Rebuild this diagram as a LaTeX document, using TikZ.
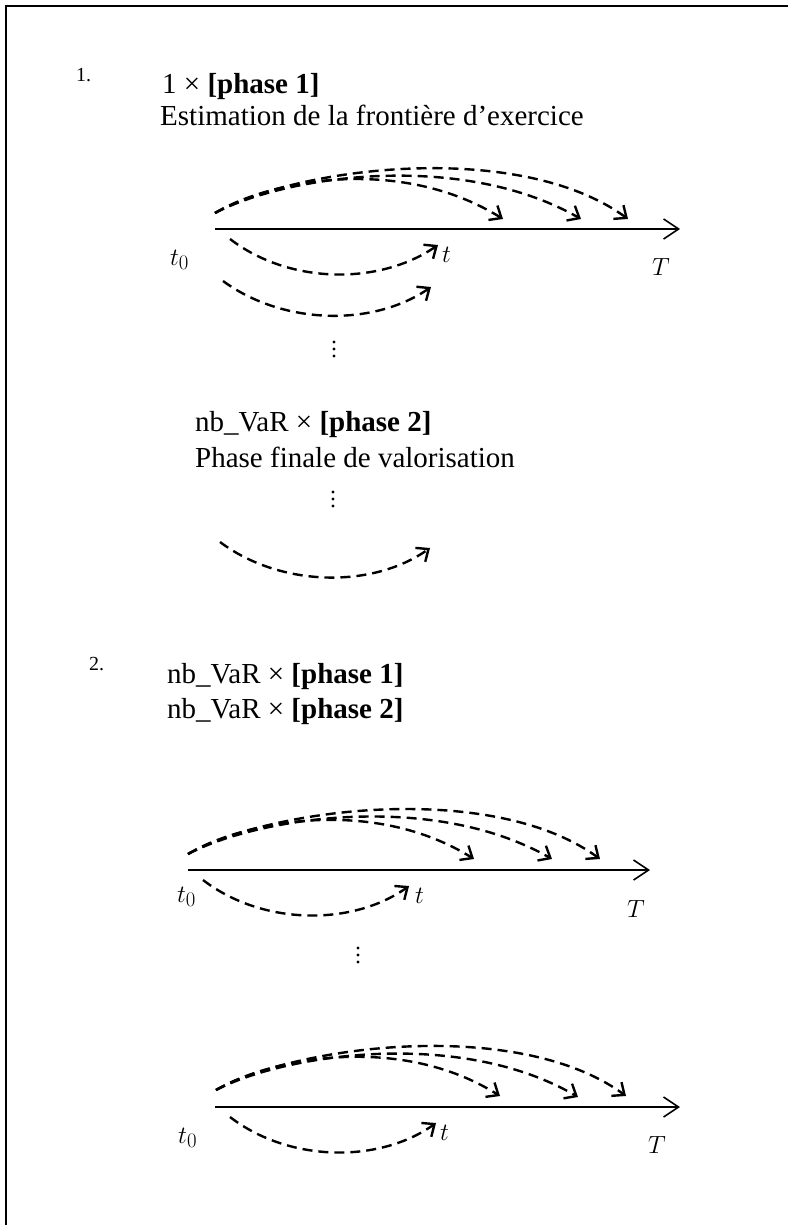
\documentclass[tikz,border=0pt]{standalone}
\usepackage{fontspec}
\setmainfont{Liberation Serif}
\usetikzlibrary{arrows.meta}
\tikzset{
  frameline/.style={line width=1.8pt, line cap=rect},
  axisline/.style={line width=1.6pt, -{Straight Barb[length=15pt,width=20pt,line width=1.6pt]}},
  dasharc/.style={line width=2.4pt, dash pattern=on 10pt off 6pt, -{Straight Barb[length=10pt,width=17pt,line width=2.4pt]}},
  txt/.style={font=\fontsize{29}{33}\selectfont, anchor=base west, inner sep=0pt},
  numtxt/.style={font=\fontsize{20}{24}\selectfont, anchor=base west, inner sep=0pt},
  mathlbl/.style={font=\fontsize{28}{32}\selectfont, anchor=base west, inner sep=0pt},
  dotfill/.style={fill=black}
}
\begin{document}
\begin{tikzpicture}[x=1pt,y=-1pt]
\useasboundingbox (0,0) rectangle (787,1225);
% frame (top and left edges)
\coordinate (fTL) at (6,6);
\coordinate (fTR) at (790,6);
\coordinate (fBL) at (6,1230);
\draw[frameline] (fTR) -- (fTL) -- (fBL);

% ---------- Part 1 ----------
\node[numtxt] (n1) at (76,82) {1.};
\node[txt] (p1a) at (162,94) {1 × \textbf{[phase 1]}};
\node[txt] (p1b) at (160,126) {Estimation de la frontière d’exercice};

\begin{scope}
  \coordinate (aS) at (215,229);
  \coordinate (aE) at (680,229);
  \draw[axisline] (aS) -- (aE);
  \node[mathlbl] (at0) at (170,265) {$t_0$};
  \node[mathlbl] (at) at (442,262) {$t$};
  \node[mathlbl] (aT) at (652,275) {$T$};
  \coordinate (uS) at (215,213);
  \coordinate (u1) at (503,219);
  \coordinate (u2) at (581,219);
  \coordinate (u3) at (628,219);
  \draw[dasharc] (uS) .. controls (270,180) and (400,155) .. (u1);
  \draw[dasharc] (uS) .. controls (285,176) and (460,150) .. (u2);
  \draw[dasharc] (uS) .. controls (300,166) and (520,140) .. (u3);
  \coordinate (l1S) at (230,239);
  \coordinate (l1E) at (438,245);
  \draw[dasharc] (l1S) .. controls (290,285) and (380,285) .. (l1E);
  \coordinate (l2S) at (223,281);
  \coordinate (l2E) at (431,287);
  \draw[dasharc] (l2S) .. controls (283,325) and (373,327) .. (l2E);
\end{scope}
% vertical ellipsis 1
\foreach \yy in {342,349,356} \fill[dotfill] (334,\yy) circle (1.6pt);

\node[txt] (p2a) at (195,431) {nb\_VaR × \textbf{[phase 2]}};
\node[txt] (p2b) at (195,467) {Phase finale de valorisation};
% vertical ellipsis 2
\foreach \yy in {492,499,506} \fill[dotfill] (333,\yy) circle (1.6pt);
\coordinate (l3S) at (220,542);
\coordinate (l3E) at (430,548);
\draw[dasharc] (l3S) .. controls (280,587) and (372,589) .. (l3E);

% ---------- Part 2 ----------
\node[numtxt] (n2) at (89,670) {2.};
\node[txt] (q1) at (167,683) {nb\_VaR × \textbf{[phase 1]}};
\node[txt] (q2) at (167,718) {nb\_VaR × \textbf{[phase 2]}};

\begin{scope}[shift={(-27,641)}]
  \coordinate (bS) at (215,229);
  \coordinate (bE) at (677,229);
  \draw[axisline] (bS) -- (bE);
  \coordinate (vS) at (215,213);
  \coordinate (v1) at (501,218);
  \coordinate (v2) at (579,218);
  \coordinate (v3) at (627,218);
  \draw[dasharc] (vS) .. controls (270,180) and (400,155) .. (v1);
  \draw[dasharc] (vS) .. controls (285,176) and (460,150) .. (v2);
  \draw[dasharc] (vS) .. controls (300,166) and (520,140) .. (v3);
  \coordinate (m1S) at (230,239);
  \coordinate (m1E) at (436,245);
  \draw[dasharc] (m1S) .. controls (290,285) and (380,285) .. (m1E);
\end{scope}
\node[mathlbl] (bt0) at (177,902) {$t_0$};
\node[mathlbl] (bt) at (415,903) {$t$};
\node[mathlbl] (bT) at (627,917) {$T$};
% vertical ellipsis 3
\foreach \yy in {948,955,962} \fill[dotfill] (358,\yy) circle (1.6pt);

\begin{scope}[shift={(0,878)}]
  \coordinate (cS) at (215,229);
  \coordinate (cE) at (680,229);
  \draw[axisline] (cS) -- (cE);
  \coordinate (wS) at (216,212);
  \coordinate (w1) at (500,218);
  \coordinate (w2) at (578,219);
  \coordinate (w3) at (626,218);
  \draw[dasharc] (wS) .. controls (270,180) and (400,155) .. (w1);
  \draw[dasharc] (wS) .. controls (285,176) and (460,150) .. (w2);
  \draw[dasharc] (wS) .. controls (300,166) and (520,140) .. (w3);
  \coordinate (k1S) at (230,239);
  \coordinate (k1E) at (436,245);
  \draw[dasharc] (k1S) .. controls (290,285) and (380,285) .. (k1E);
\end{scope}
\node[mathlbl] (ct0) at (178,1143) {$t_0$};
\node[mathlbl] (ct) at (440,1140) {$t$};
\node[mathlbl] (cT) at (648,1153) {$T$};
\end{tikzpicture}
\end{document}
